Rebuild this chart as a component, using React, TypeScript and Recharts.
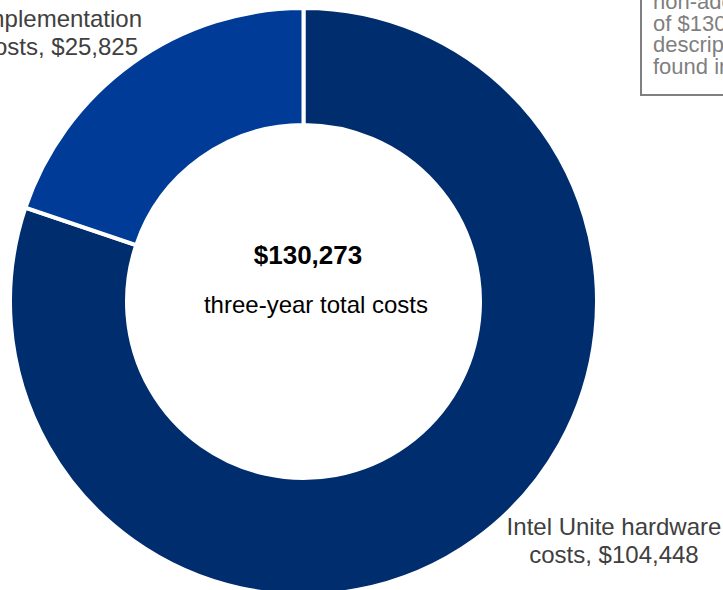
import React from "react";
import { PieChart, Pie, Cell } from "recharts";

// ---- data ----
const CATEGORIES = ["Intel Unite hardware costs", "Implementation costs"];
const LABEL_FIRST_LINES = ["Intel Unite hardware", "Implementation"];
const VALUES = [104448, 25825];
const CENTER_SUBTITLE = "three-year total costs";
const NOTE_LINES = ["non-additional", "of $130,273. A", "description can be", "found in the report."];

// ---- styles / layout ----
const COLORS = ["#002D6E", "#003B97"];
const LABEL_ANCHORS = [
  { x: 614, y: 535 },
  { x: 60, y: 27 },
];
const FONT = "'Liberation Sans', Arial, Helvetica, sans-serif";

const fmt = (v: number) => "$" + v.toLocaleString("en-US");

const data = CATEGORIES.map((name, i) => ({ name, value: VALUES[i] }));
const total = VALUES.reduce((a, b) => a + b, 0);

const renderLabel = (props: any) => {
  const { index, cx, cy } = props;
  const a = LABEL_ANCHORS[index];
  const lines = [LABEL_FIRST_LINES[index], "costs, " + fmt(VALUES[index])];
  return (
    <g key={"lbl" + index}>
      <text
        x={a.x}
        y={a.y}
        textAnchor="middle"
        fontFamily={FONT}
        fontSize={24}
        fill="#404040"
      >
        <tspan x={a.x} y={a.y}>{lines[0]}</tspan>
        <tspan x={a.x} y={a.y + 28}>{lines[1]}</tspan>
      </text>
      {index === 0 && (
        <g>
          <text
            x={cx + 4.5}
            y={cy - 38}
            textAnchor="middle"
            fontFamily={FONT}
            fontSize={26}
            fontWeight="bold"
            fill="#000"
          >
            {fmt(total)}
          </text>
          <text
            x={cx + 12.5}
            y={cy + 11.5}
            textAnchor="middle"
            fontFamily={FONT}
            fontSize={24}
            fill="#000"
          >
            {CENTER_SUBTITLE}
          </text>
        </g>
      )}
    </g>
  );
};

export default function App() {
  return (
    <div
      style={{
        position: "absolute",
        left: 0,
        top: 0,
        width: 723,
        height: 590,
        overflow: "hidden",
        background: "#fff",
      }}
    >
      <PieChart width={723} height={590} margin={{ top: 0, right: 0, bottom: 0, left: 0 }}>
        <Pie
          data={data}
          dataKey="value"
          nameKey="name"
          cx={303.5}
          cy={301.5}
          innerRadius={176.5}
          outerRadius={293.5}
          startAngle={90}
          endAngle={-270}
          stroke="#ffffff"
          strokeWidth={4}
          label={renderLabel}
          labelLine={false}
          isAnimationActive={false}
        >
          {data.map((d, i) => (
            <Cell key={d.name} fill={COLORS[i]} />
          ))}
        </Pie>
      </PieChart>
      <div
        style={{
          position: "absolute",
          left: 640,
          top: -40,
          width: 200,
          height: 136,
          border: "2px solid #7f7f7f",
          boxSizing: "border-box",
          fontFamily: FONT,
          fontSize: 22,
          lineHeight: "21.5px",
          color: "#7f7f7f",
          paddingLeft: 11,
          paddingTop: 29,
          whiteSpace: "nowrap",
        }}
      >
        {NOTE_LINES.map((l) => (
          <div key={l}>{l}</div>
        ))}
      </div>
    </div>
  );
}
